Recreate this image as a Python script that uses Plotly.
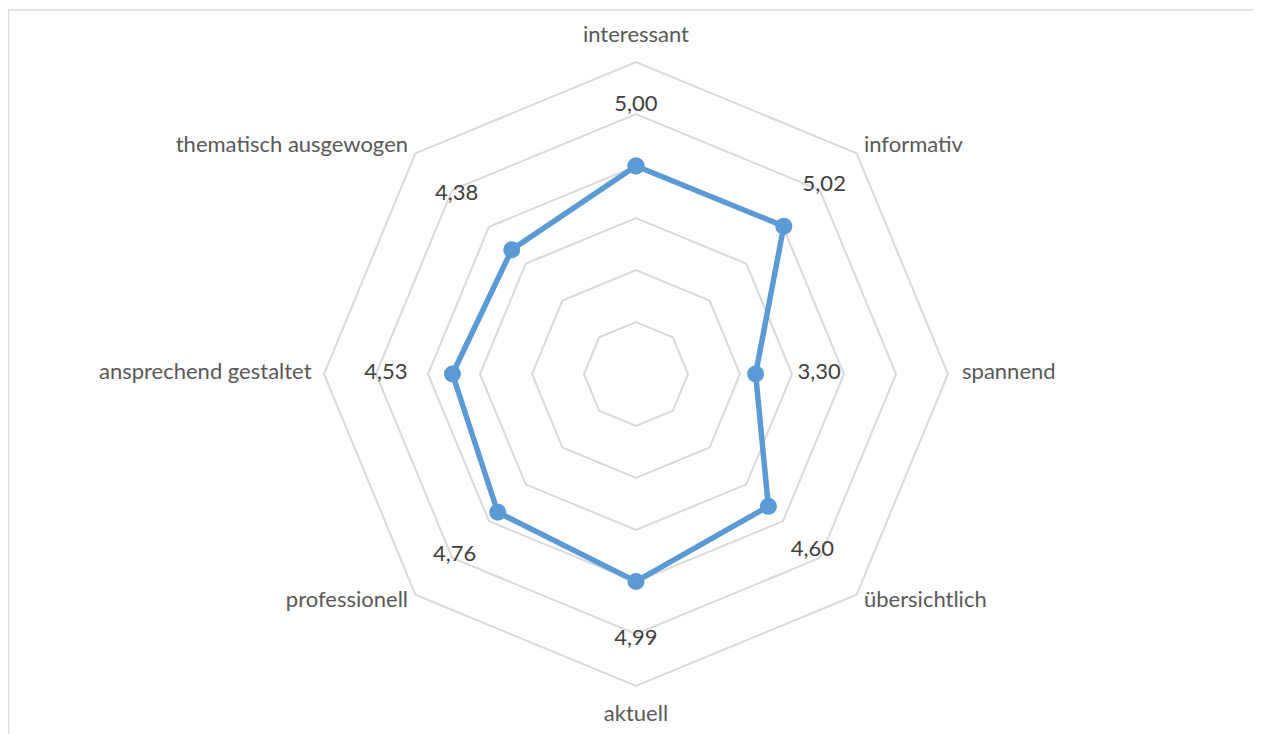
import plotly.graph_objects as go

categories = ["interessant", "informativ", "spannend", "übersichtlich",
              "aktuell", "professionell", "ansprechend gestaltet", "thematisch ausgewogen"]
values = [5.00, 5.02, 3.30, 4.60, 4.99, 4.76, 4.53, 4.38]
value_labels = ["5,00", "5,02", "3,30", "4,60", "4,99", "4,76", "4,53", "4,38"]
grid_levels = [2, 3, 4, 5, 6, 7]

# styling: radial offset of the value labels (data units)
label_offsets = [1.16, 1.1, 1.22, 1.2, 1.12, 1.17, 1.28, 1.5]
# styling: radial position / anchoring of the category labels
cat_label_r = [7.5, 7.2, 7.27, 7.2, 7.56, 7.2, 7.24, 7.2]
cat_label_pos = ["middle center", "middle right", "middle right", "middle right",
                 "middle center", "middle left", "middle left", "middle left"]

# page body has an 8px default margin, so work in figure coordinates
OFF = 8
W, H = 1261 - OFF, 734 - OFF
R_MIN, R_GRID_MAX, R_MAX = 1, 7, 7.6
cx, cy = 636 - OFF, 374 - OFF
R = 312 * (R_MAX - R_MIN) / (R_GRID_MAX - R_MIN)

LINE = "#5B9BD5"
GRID = "#D9D9D9"
FONT = "Lato"

fig = go.Figure()

fig.add_trace(go.Scatterpolar(
    r=values + [values[0]],
    theta=categories + [categories[0]],
    mode="lines+markers",
    line=dict(color=LINE, width=5.5),
    marker=dict(color=LINE, size=17),
    hoverinfo="skip",
    showlegend=False,
))

fig.add_trace(go.Scatterpolar(
    r=[v + o for v, o in zip(values, label_offsets)],
    theta=categories,
    mode="text",
    text=value_labels,
    textposition="middle center",
    textfont=dict(family=FONT, size=22, color="#404040"),
    hoverinfo="skip",
    showlegend=False,
))

fig.add_trace(go.Scatterpolar(
    r=cat_label_r,
    theta=categories,
    mode="text",
    text=categories,
    textposition=cat_label_pos,
    textfont=dict(family=FONT, size=22, color="#595959"),
    cliponaxis=False,
    hoverinfo="skip",
    showlegend=False,
))

fig.update_layout(
    width=W, height=H,
    margin=dict(l=0, r=0, t=0, b=0),
    paper_bgcolor="white",
    plot_bgcolor="white",
    font=dict(family=FONT, size=22, color="#595959"),
    polar=dict(
        domain=dict(x=[(cx - R) / W, (cx + R) / W], y=[1 - (cy + R) / H, 1 - (cy - R) / H]),
        bgcolor="rgba(0,0,0,0)",
        gridshape="linear",
        radialaxis=dict(
            range=[R_MIN, R_MAX],
            tickvals=grid_levels,
            showticklabels=False,
            ticks="",
            showline=False,
            showgrid=True,
            gridcolor=GRID,
            gridwidth=1.5,
        ),
        angularaxis=dict(
            rotation=90,
            direction="clockwise",
            showgrid=False,
            showline=False,
            ticks="",
            showticklabels=False,
        ),
    ),
    shapes=[
        dict(type="line", xref="paper", yref="paper",
             x0=0, x1=1, y0=1 - 2 / H, y1=1 - 2 / H,
             line=dict(color=GRID, width=1.5)),
        dict(type="line", xref="paper", yref="paper",
             x0=0.5 / W, x1=0.5 / W, y0=0, y1=1 - 2 / H,
             line=dict(color=GRID, width=1.5)),
    ],
)

fig.write_html("out.html")
